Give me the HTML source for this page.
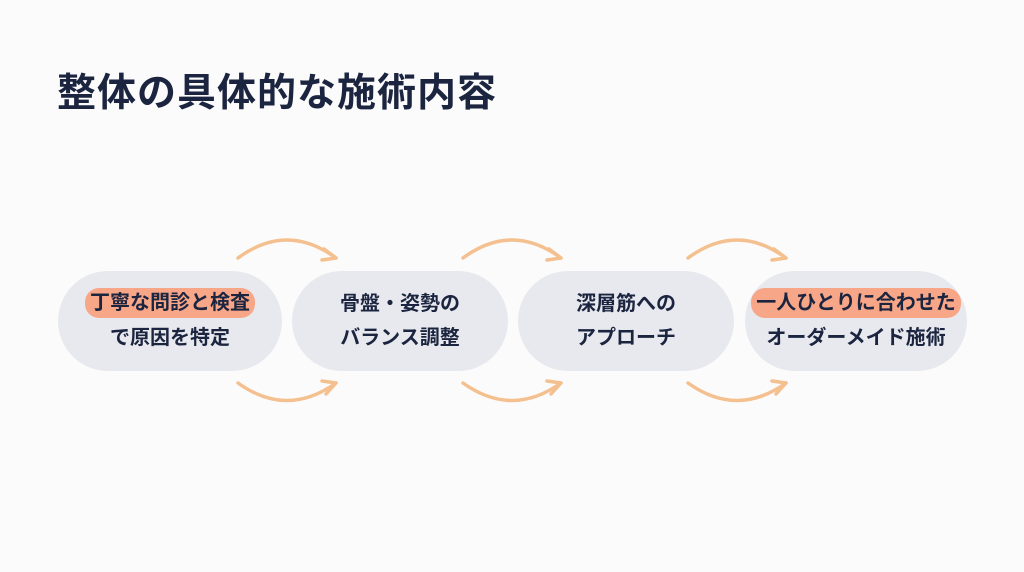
<!DOCTYPE html>
<html><head><meta charset="utf-8"><style>
body{margin:0;width:1024px;height:572px;background:#fbfbfb;position:relative;overflow:hidden;font-family:"Liberation Sans","Noto Sans CJK JP",sans-serif;color:#1c2540}
h1{position:absolute;left:57px;top:62px;margin:0;font-size:39px;font-weight:700;letter-spacing:1px}
.p{position:absolute;top:271px;height:100px;border-radius:50px;background:#e8e9ee;display:flex;flex-direction:column;align-items:center;justify-content:center;font-size:20px;font-weight:700;line-height:34px}
.h{background:#f7a688;border-radius:14px;padding:0 5px;line-height:30px;margin-bottom:3px}
svg{position:absolute;left:0;top:0}
</style></head><body>
<h1>整体の具体的な施術内容</h1>
<div class="p" style="left:58px;width:224px"><span class="h">丁寧な問診と検査</span><span>で原因を特定</span></div>
<div class="p" style="left:292px;width:216px"><span>骨盤・姿勢の</span><span>バランス調整</span></div>
<div class="p" style="left:518px;width:216px"><span>深層筋への</span><span>アプローチ</span></div>
<div class="p" style="left:745px;width:222px"><span class="h">一人ひとりに合わせた</span><span>オーダーメイド施術</span></div>
<svg width="1024" height="572" fill="none" stroke="#f5c08f" stroke-width="3.5" stroke-linecap="round" stroke-linejoin="round">
<g id="a">
<path d="M238 258 Q287 222 336 258"/><path d="M324 249 L336 258 L322 260"/>
<path d="M238 383 Q287 418 336 383"/><path d="M322 381 L336 383 L326 394"/>
</g>
<use href="#a" x="225"/><use href="#a" x="450"/>
</svg>
</body></html>
